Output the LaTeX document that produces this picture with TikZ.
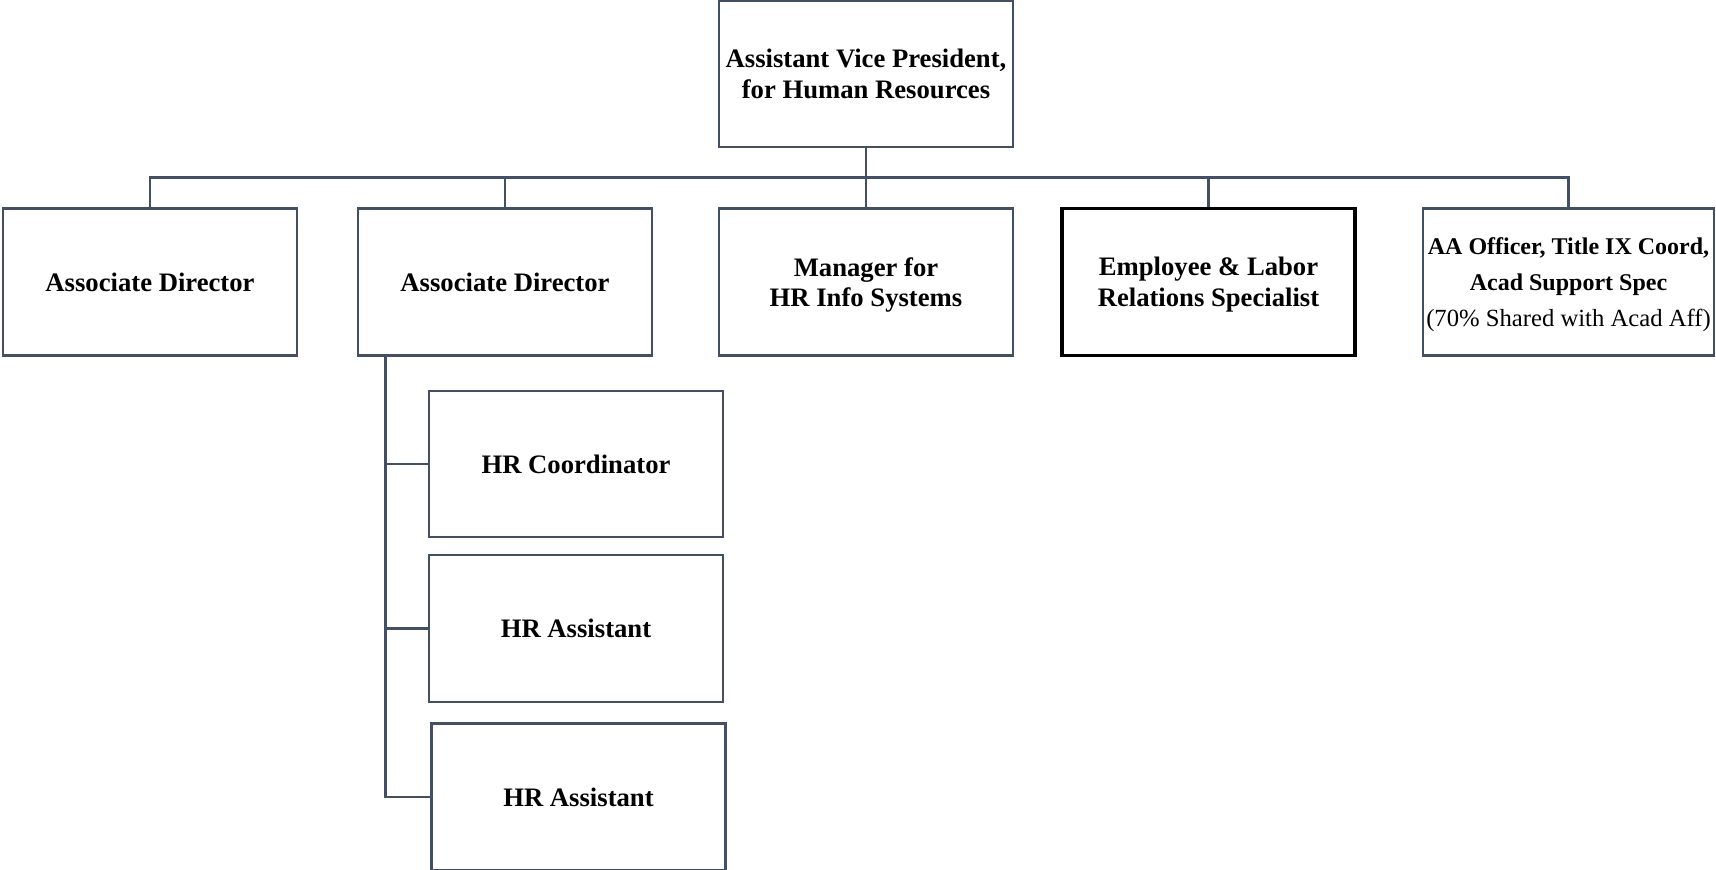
\documentclass[tikz,border=0pt]{standalone}
\usepackage{fontspec}
\setmainfont{Liberation Serif}
\usetikzlibrary{calc}
\definecolor{lc}{HTML}{435064}
\begin{document}
\begin{tikzpicture}[x=0.75pt,y=-0.75pt,
  box/.style={draw=lc, line width=1.8pt, rectangle, inner sep=0pt,
    minimum width=220.5pt, minimum height=110.25pt, align=center, text depth=0pt,
    font=\fontsize{20}{23}\selectfont\bfseries},
  keybox/.style={box, draw=black, line width=2.3pt},
  conn/.style={draw=lc, line width=2pt}]
\useasboundingbox (0,0) rectangle (1716,870);
% top
\node[box, minimum height=109.5pt] (avp) at (866,74) {Assistant Vice President,\\for Human Resources};
% second row
\node[box] (ad1) at (150,282) {Associate Director};
\node[box] (ad2) at (505,282) {Associate Director};
\node[box] (mgr) at (866,282) {Manager for\\HR Info Systems};
\node[keybox, minimum width=219.75pt] (elr) at (1208.5,282) {Employee \& Labor\\Relations Specialist};
\node[box, minimum width=218.25pt, font=\fontsize{18.5}{27}\selectfont] (aa) at (1568.5,282)
  {{\fontsize{18}{27}\selectfont\bfseries AA Officer, Title IX Coord,}\\{\fontsize{18}{27}\selectfont\bfseries Acad Support Spec}\\(70\% Shared with Acad Aff)};
% under second associate director
\node[box, minimum height=109.5pt] (hrc) at (576,464) {HR Coordinator};
\node[box] (hra1) at (576,628.5) {HR Assistant};
\node[box] (hra2) at (578.5,797) {HR Assistant};
% connectors
\coordinate (bus) at ($(avp.south)!0.5!(mgr.north)$);
\draw[conn] (avp.south) -- (mgr.north);
\draw[conn] (ad1.north) |- (bus) -| (aa.north);
\draw[conn] (ad2.north) -- (ad2.north |- bus);
\draw[conn] (elr.north) -- (elr.north |- bus);
\coordinate (tr) at ($(ad2.south west)+(29,0)$);
\draw[conn] (tr) |- (hra2.west);
\draw[conn] (tr |- hrc.west) -- (hrc.west);
\draw[conn] (tr |- hra1.west) -- (hra1.west);
\end{tikzpicture}
\end{document}
